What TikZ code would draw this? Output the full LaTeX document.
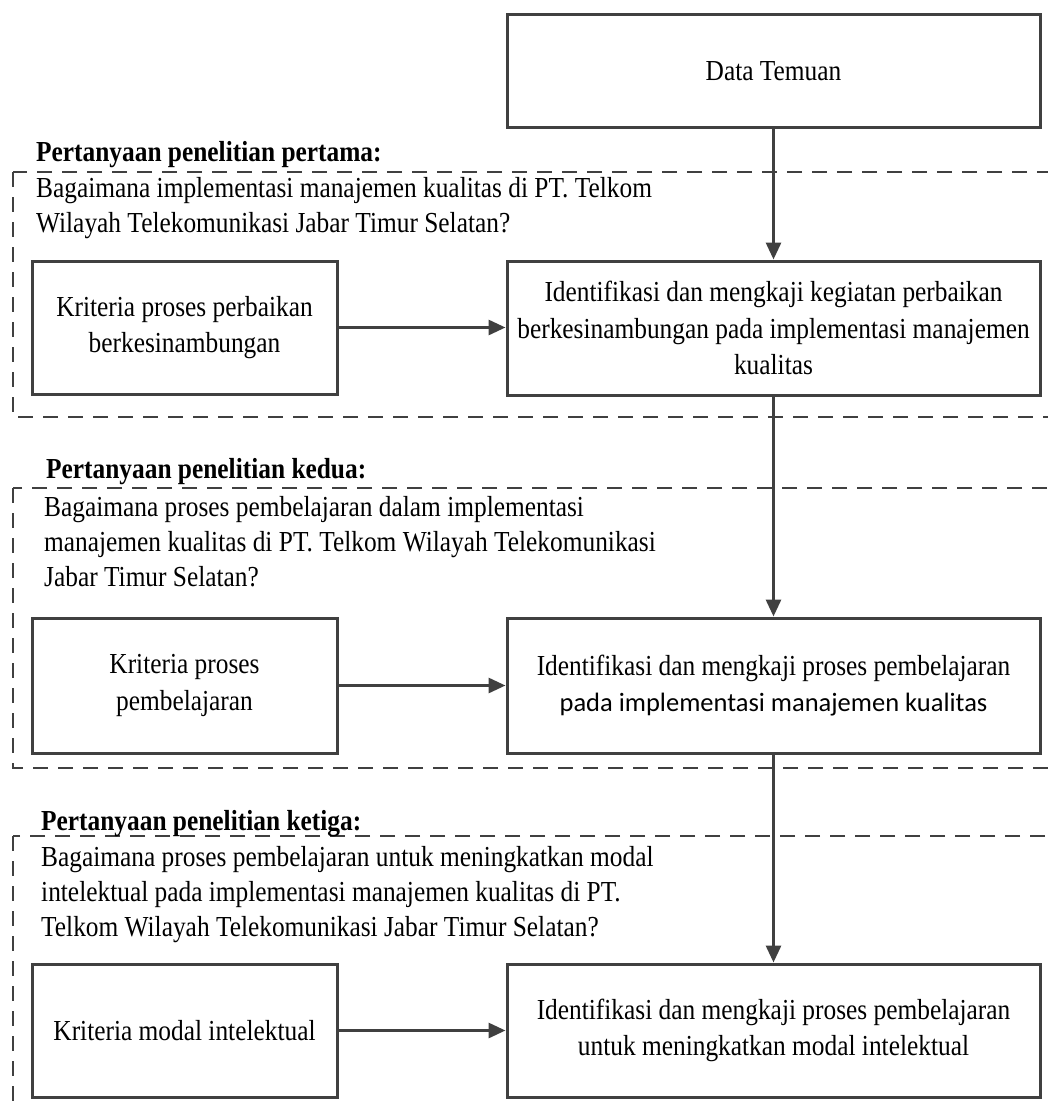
\documentclass[tikz,border=0pt]{standalone}
\usepackage{fontspec}
\setmainfont{Liberation Serif}[FakeStretch=0.875]
\newfontfamily\carlito{Carlito}
\usetikzlibrary{arrows.meta}
\definecolor{ln}{HTML}{404040}
\tikzset{
  box/.style={draw=ln, line width=3pt, inner sep=0pt, align=center,
    font=\fontsize{29}{36.5}\selectfont},
  lbox/.style={box, minimum width=305pt},
  rbox/.style={box, minimum width=533pt},
  grp/.style={draw=ln, line width=2.5pt, dash pattern=on 15pt off 10pt},
  arr/.style={draw=ln, line width=3pt, -{Triangle[length=17pt,width=15pt]}},
  head/.style={anchor=base west, inner sep=0pt, font=\fontsize{29}{35}\selectfont\bfseries},
  ques/.style={anchor=base west, inner sep=0pt, align=left, font=\fontsize{29}{35}\selectfont},
}
\begin{document}
\begin{tikzpicture}[x=1pt, y=-1pt]
\useasboundingbox (0,0) rectangle (1048,1108);
\clip (0,0) rectangle (1048,1108);
% group frames
\draw[grp] (13,172) rectangle (1075,417);
\draw[grp] (13,488) rectangle (1075,768);
\draw[grp] (13,836) rectangle (1075,1140);
% headings and questions (questions anchored at the baseline of their last line)
\node[head] (h1) at (36,161) {Pertanyaan penelitian pertama:};
\node[ques] (q1) at (36,232) {Bagaimana implementasi manajemen kualitas di PT. Telkom\\Wilayah Telekomunikasi Jabar Timur Selatan?};
\node[head] (h2) at (46,478) {Pertanyaan penelitian kedua:};
\node[ques] (q2) at (44,586) {Bagaimana proses pembelajaran dalam implementasi\\manajemen kualitas di PT. Telkom Wilayah Telekomunikasi\\Jabar Timur Selatan?};
\node[head] (h3) at (41,830) {Pertanyaan penelitian ketiga:};
\node[ques] (q3) at (41,936) {Bagaimana proses pembelajaran untuk meningkatkan modal\\intelektual pada implementasi manajemen kualitas di PT.\\Telkom Wilayah Telekomunikasi Jabar Timur Selatan?};
% boxes
\node[rbox, minimum height=112pt] (dt) at (773.5,71) {Data Temuan};
\node[lbox, minimum height=133pt] (l1) at (184.5,327.5) {Kriteria proses perbaikan\\berkesinambungan};
\node[rbox, minimum height=134pt] (r1) at (773.5,328) {Identifikasi dan mengkaji kegiatan perbaikan\\berkesinambungan pada implementasi manajemen\\kualitas};
\node[lbox, minimum height=135pt] (l2) at (184.5,685.5) {Kriteria proses\\pembelajaran};
\node[rbox, minimum height=135pt] (r2) at (773.5,685.5) {Identifikasi dan mengkaji proses pembelajaran\\{\carlito\fontsize{26.5}{36.5}\selectfont pada implementasi manajemen kualitas}};
\node[lbox, minimum height=133pt] (l3) at (184.5,1030.5) {Kriteria modal intelektual};
\node[rbox, minimum height=133pt] (r3) at (773.5,1030.5) {Identifikasi dan mengkaji proses pembelajaran\\untuk meningkatkan modal intelektual};
% connectors
\draw[arr] (dt.south) -- (r1.north);
\draw[arr] (r1.south) -- (r2.north);
\draw[arr] (r2.south) -- (r3.north);
\draw[arr] (l1.east) -- (l1.east -| r1.west);
\draw[arr] (l2.east) -- (l2.east -| r2.west);
\draw[arr] (l3.east) -- (l3.east -| r3.west);
\end{tikzpicture}
\end{document}
